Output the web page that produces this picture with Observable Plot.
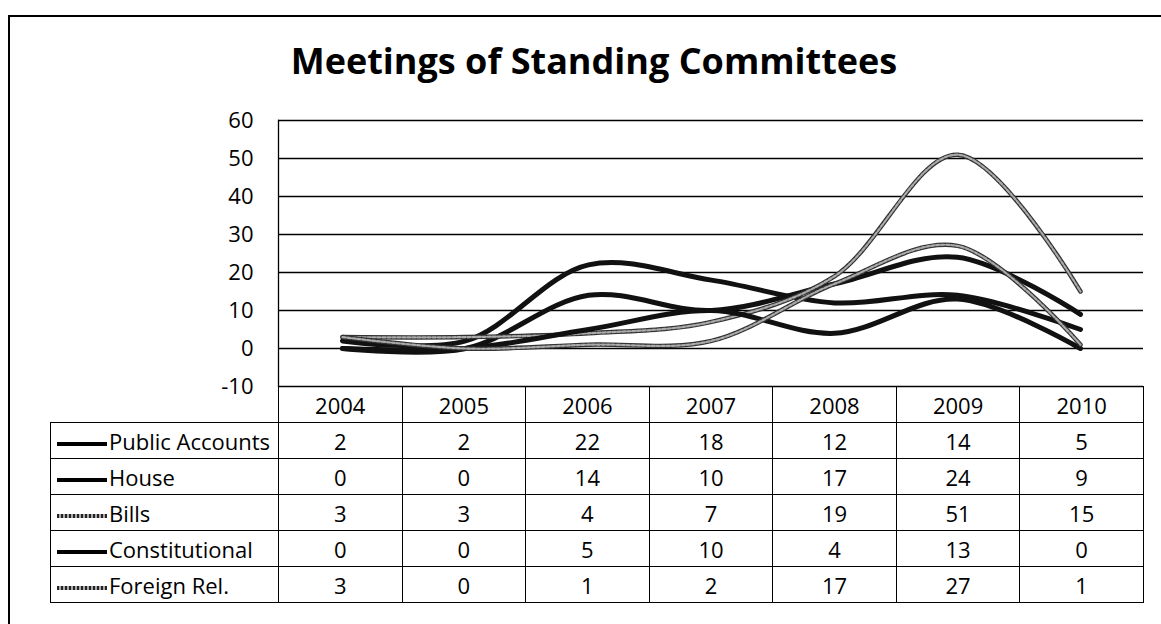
<!DOCTYPE html>
<html><head><meta charset="utf-8">
<script src="https://cdn.jsdelivr.net/npm/d3@7"></script>
<script src="https://cdn.jsdelivr.net/npm/@observablehq/plot@0.6"></script>
<style>
body{margin:0;background:#fff;font-family:"Open Sans",Lato,sans-serif;color:#000;}
#wrap{position:relative;width:1161px;height:624px;overflow:hidden;background:#fff;}
#frame{position:absolute;left:8px;top:15px;width:1160px;height:620px;border-left:2px solid #000;border-top:2px solid #000;}
#title{position:absolute;left:594px;top:43px;transform:translateX(-50%);white-space:nowrap;font-family:"Open Sans",sans-serif;font-size:36px;line-height:36px;font-weight:bold;}
#chart{position:absolute;left:0;top:0;}
table{position:absolute;left:50px;top:386px;border-collapse:collapse;table-layout:fixed;font-size:22px;}
td{border:1.5px solid #000;height:35px;padding:0;text-align:center;white-space:nowrap;line-height:1;}
td.blank{border:none;border-bottom:1.5px solid #000;}
td.lab{text-align:left;padding-left:6px;}
.key{display:inline-block;width:50px;height:4px;vertical-align:middle;margin-right:2px;background:#000;}
.key.gray{height:4px;background:repeating-linear-gradient(90deg,#222 0 2px,#aaa 2px 4px);}
</style></head>
<body>
<div id="wrap">
  <div id="frame"></div>
  <div id="title"></div>
  <div id="chart"></div>
  <table id="tbl"></table>
</div>
<script>
const titleText = "Meetings of Standing Committees";
const years = ["2004","2005","2006","2007","2008","2009","2010"];
const seriesNames = ["Public Accounts","House","Bills","Constitutional","Foreign Rel."];
const publicAccounts = [2,2,22,18,12,14,5];
const house = [0,0,14,10,17,24,9];
const bills = [3,3,4,7,19,51,15];
const constitutional = [0,0,5,10,4,13,0];
const foreignRel = [3,0,1,2,17,27,1];
const yTicks = [-10,0,10,20,30,40,50,60];

const seriesValues = [publicAccounts, house, bills, constitutional, foreignRel];
const grayNames = new Set(["Bills","Foreign Rel."]);

document.getElementById("title").textContent = titleText;

const data = [];
seriesNames.forEach((name, si) => {
  years.forEach((yr, i) => data.push({name, year: yr, value: seriesValues[si][i]}));
});

const chart = Plot.plot({
  width: 1161,
  height: 400,
  marginLeft: 278,
  marginRight: 18,
  marginTop: 120,
  marginBottom: 14,
  style: {fontFamily: '"Open Sans", Lato, sans-serif', fontSize: "22px", background: "transparent", color: "#000"},
  x: {type: "point", domain: years, padding: 0.5, axis: null},
  y: {domain: [-10, 60], label: null},
  marks: [
    Plot.ruleY(yTicks, {stroke: "#000", strokeWidth: 1.3}),
    Plot.frame({anchor: "left", stroke: "#000", strokeWidth: 1.3}),
    Plot.axisY({ticks: yTicks, tickSize: 0, tickPadding: 25, tickFormat: d => String(d), fontSize: 22, label: null}),
    ...seriesNames.map(name => {
      const sub = data.filter(d => d.name === name);
      if (grayNames.has(name)) {
        return [
          Plot.line(sub, {x: "year", y: "value", stroke: "#333", strokeWidth: 4.5, curve: "catmull-rom"}),
          Plot.line(sub, {x: "year", y: "value", stroke: "#aaa", strokeWidth: 2.2, strokeDasharray: "3,2", curve: "catmull-rom"})
        ];
      }
      return Plot.line(sub, {x: "year", y: "value", stroke: "#111", strokeWidth: 5, curve: "catmull-rom"});
    }).flat()
  ]
});
document.getElementById("chart").appendChild(chart);

// data table
const tbl = document.getElementById("tbl");
const cg = document.createElement("colgroup");
const c0 = document.createElement("col"); c0.style.width = "228px"; cg.appendChild(c0);
years.forEach(() => { const c = document.createElement("col"); c.style.width = (865/7) + "px"; cg.appendChild(c); });
tbl.appendChild(cg);
const hr = document.createElement("tr");
const hb = document.createElement("td"); hb.className = "blank"; hr.appendChild(hb);
years.forEach(y => { const td = document.createElement("td"); td.textContent = y; hr.appendChild(td); });
tbl.appendChild(hr);
seriesNames.forEach((name, si) => {
  const tr = document.createElement("tr");
  const lab = document.createElement("td"); lab.className = "lab";
  const key = document.createElement("span"); key.className = "key" + (grayNames.has(name) ? " gray" : "");
  lab.appendChild(key);
  lab.appendChild(document.createTextNode(name));
  tr.appendChild(lab);
  seriesValues[si].forEach(v => { const td = document.createElement("td"); td.textContent = v; tr.appendChild(td); });
  tbl.appendChild(tr);
});
</script>
</body></html>
